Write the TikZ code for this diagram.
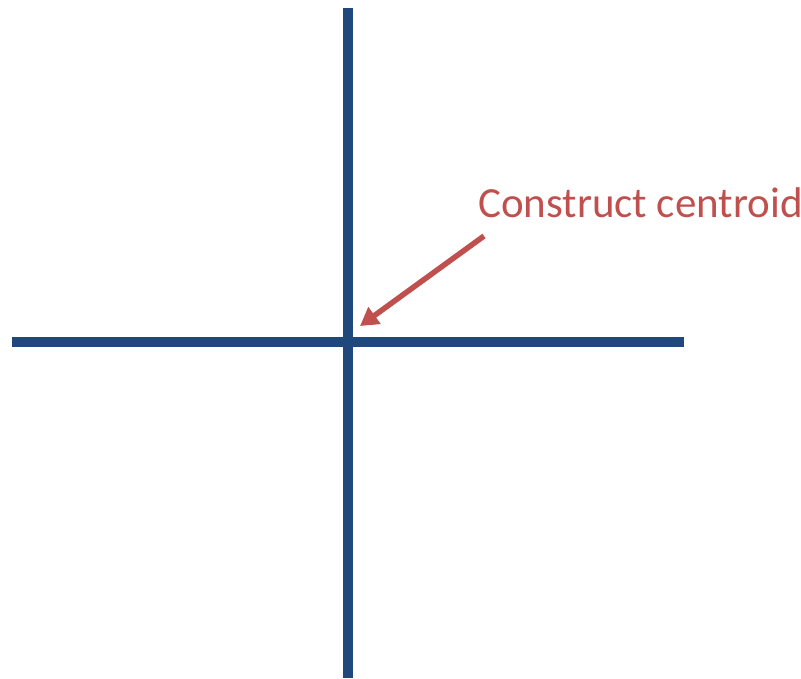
\documentclass[tikz,border=0pt]{standalone}
\usepackage{fontspec}
\setmainfont{Carlito}
\usetikzlibrary{arrows.meta}
\definecolor{axisblue}{RGB}{31,73,125}
\definecolor{labelred}{RGB}{192,80,77}
\tikzset{
  axisline/.style={draw=axisblue, line width=10.5pt},
  pointer/.style={draw=labelred, line width=5.5pt, -{Triangle[length=18pt,width=20pt]}},
  labeltext/.style={text=labelred, font=\fontsize{43}{50}\selectfont, inner sep=0pt, anchor=base west}
}
\begin{document}
\begin{tikzpicture}[x=1pt,y=-1pt]
\useasboundingbox (0,0) rectangle (801,678);
\coordinate (vtop) at (347.8,8);
\coordinate (vbot) at (347.8,678);
\coordinate (hleft) at (11.7,342);
\coordinate (hright) at (683.5,342);
\coordinate (tail) at (484,236);
\coordinate (tip) at (360,326);
\draw[axisline] (vtop) -- (vbot);
\draw[axisline] (hleft) -- (hright);
\node[labeltext] (lbl) at (478,217.5) {Construct centroid};
\draw[pointer] (tail) -- (tip);
\end{tikzpicture}
\end{document}
